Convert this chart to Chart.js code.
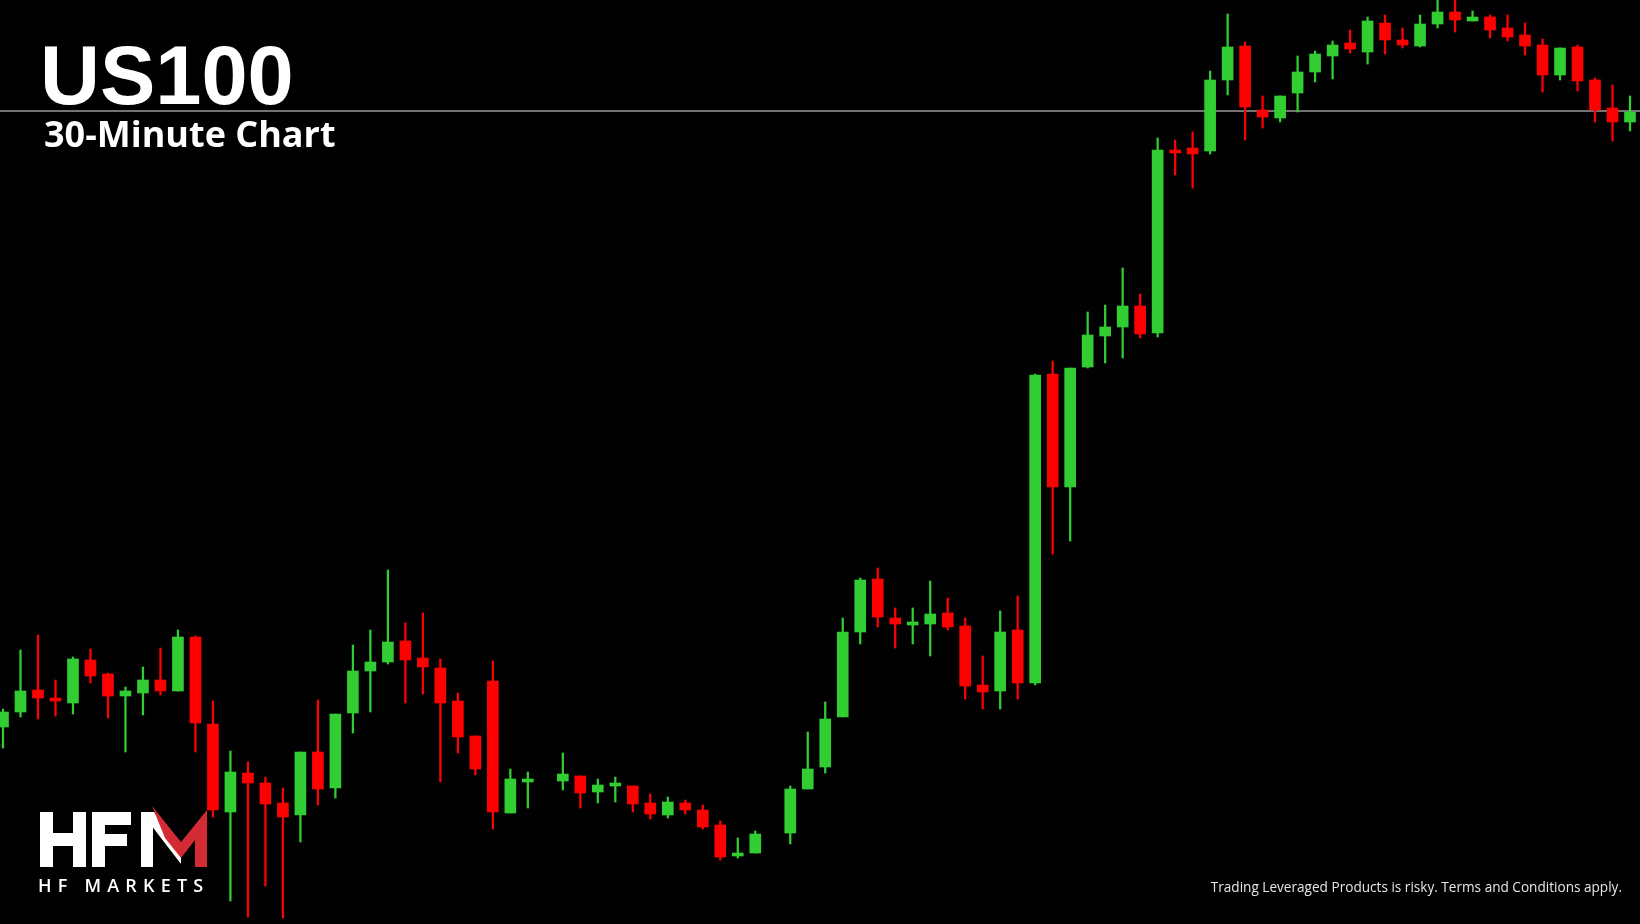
<!DOCTYPE html>
<html><head><meta charset="utf-8">
<script src="https://cdn.jsdelivr.net/npm/chart.js@4.4.1/dist/chart.umd.min.js"></script>
<style>
html,body{margin:0;padding:0;background:#000;overflow:hidden}
#wrap{position:absolute;left:0;top:0;width:1640px;height:924px}
.t{position:absolute;color:#fff;white-space:nowrap;line-height:1}
</style></head><body>
<div id="wrap"><canvas id="c"></canvas></div>
<div class="t" style="left:40px;top:28px;font:bold 83px 'Liberation Sans',Arial,sans-serif;">US100</div>
<div class="t" style="left:44px;top:109px;font:bold 36px 'Open Sans',sans-serif;">30-Minute Chart</div>
<svg style="position:absolute;left:0;top:0" width="260" height="924">
<g fill="#fff">
<rect x="40" y="812" width="13" height="55"/><rect x="73" y="812" width="13" height="55"/><rect x="40" y="833" width="46" height="13"/>
<rect x="92" y="812" width="13" height="55"/><rect x="92" y="812" width="39" height="13"/><rect x="92" y="834" width="35" height="12"/>
<rect x="141" y="812" width="12" height="55"/>
<polygon points="141,812 154,812 181,846 181,864"/>
</g>
<polygon fill="#d42a33" points="152,806 181,842 207,810 207,867 195,867 195,840 181,858 165,838"/>
<text x="38" y="892" fill="#fff" font-family="'Open Sans',sans-serif" font-weight="600" font-size="18" letter-spacing="6.2">HF MARKETS</text>
</svg>
<div class="t" style="right:18px;top:877px;font:13.6px 'Open Sans',sans-serif;color:#e6e6e6;">Trading Leveraged Products is risky. Terms and Conditions apply.</div>
<script>
const opens  = [20273,20288,20310,20301,20297,20340,20326,20304,20307,20320,20309,20363,20276,20188,20227,20217,20197,20185,20248,20212,20287,20329,20338,20359,20342,20332,20299,20264,20319,20187,20218,null,20219,20224,20208,20214,20214,20197,20185,20197,20190,20175,20144,20147,null,20167,20211,20233,20283,20368,20421,20382,20375,20376,20387,20374,20315,20309,20370,20317,20626,20513,20633,20664,20673,20694,20667,20850,20852,20849,20920,20954,20890,20882,20907,20928,20944,20957,20948,20977,20960,20954,20976,20988,20979,20983,20972,20965,20955,20925,20953,20920,20892,20878];
const closes = [20288,20309,20302,20299,20341,20324,20304,20309,20320,20309,20363,20277,20190,20228,20217,20196,20183,20248,20211,20286,20329,20338,20358,20340,20333,20297,20263,20231,20188,20221,20220,null,20226,20207,20215,20214,20196,20186,20198,20190,20173,20143,20147,20166,null,20211,20231,20281,20368,20420,20383,20376,20375,20386,20373,20314,20308,20368,20317,20625,20513,20632,20665,20673,20694,20666,20850,20847,20846,20920,20953,20893,20883,20904,20928,20946,20955,20951,20979,20960,20955,20976,20988,20980,20983,20970,20963,20954,20925,20952,20919,20890,20878,20888];
const highs  = [20291,20350,20365,20320,20343,20351,20327,20313,20333,20352,20370,20364,20299,20249,20238,20223,20212,20248,20300,20286,20355,20370,20430,20377,20387,20341,20307,20264,20339,20231,20228,null,20247,20224,20221,20223,20214,20206,20203,20200,20195,20179,20162,20169,null,20214,20268,20298,20382,20422,20432,20392,20392,20419,20402,20382,20344,20389,20404,20626,20639,20632,20688,20695,20732,20706,20862,20860,20868,20929,20986,20958,20904,20904,20944,20949,20959,20970,20983,20985,20972,20985,21000,21000,20989,20985,20985,20977,20961,20952,20955,20922,20915,20904];
const lows   = [20252,20283,20281,20284,20286,20317,20282,20248,20285,20305,20309,20248,20183,20099,20083,20114,20082,20158,20195,20202,20267,20288,20336,20297,20306,20218,20247,20225,20171,20187,20192,null,20210,20192,20197,20198,20188,20181,20182,20186,20171,20140,20142,20147,null,20156,20211,20227,20283,20356,20373,20352,20356,20344,20370,20301,20291,20291,20301,20315,20446,20459,20632,20637,20642,20662,20663,20825,20812,20846,20905,20860,20872,20878,20888,20918,20921,20947,20936,20946,20952,20953,20972,20968,20979,20962,20959,20945,20908,20920,20909,20878,20859,20869];
const levelPrice = 20889;

const GREEN = '#32cd32', RED = '#ff0000';
const idx = opens.map((_, i) => i).filter(i => opens[i] != null);
const col = idx.map(i => closes[i] >= opens[i] ? GREEN : RED);
const bodies = idx.map(i => ({x: i, y: [opens[i], closes[i]]}));
const wicks = idx.map(i => ({x: i, y: [lows[i], highs[i]]}));
const n = opens.length;

new Chart(document.getElementById('c'), {
  data: {
    datasets: [
      {type: 'line', data: [{x: -1, y: levelPrice}, {x: n + 1, y: levelPrice}], borderColor: '#9a9a9a', borderWidth: 1.6, pointRadius: 0, order: 3, clip: false},
      {type: 'bar', data: wicks, backgroundColor: col, barThickness: 1.6, grouped: false, order: 2},
      {type: 'bar', data: bodies, backgroundColor: col, barThickness: 11, minBarLength: 3, grouped: false, order: 1}
    ]
  },
  options: {
    responsive: true, maintainAspectRatio: false, animation: false,
    layout: {padding: 0},
    plugins: {legend: {display: false}, tooltip: {enabled: false}},
    scales: {
      x: {type: 'linear', min: -0.1715, max: 93.5716, offset: false, display: false},
      y: {min: 20076, max: 21000, display: false}
    }
  }
});
</script>
</body></html>
